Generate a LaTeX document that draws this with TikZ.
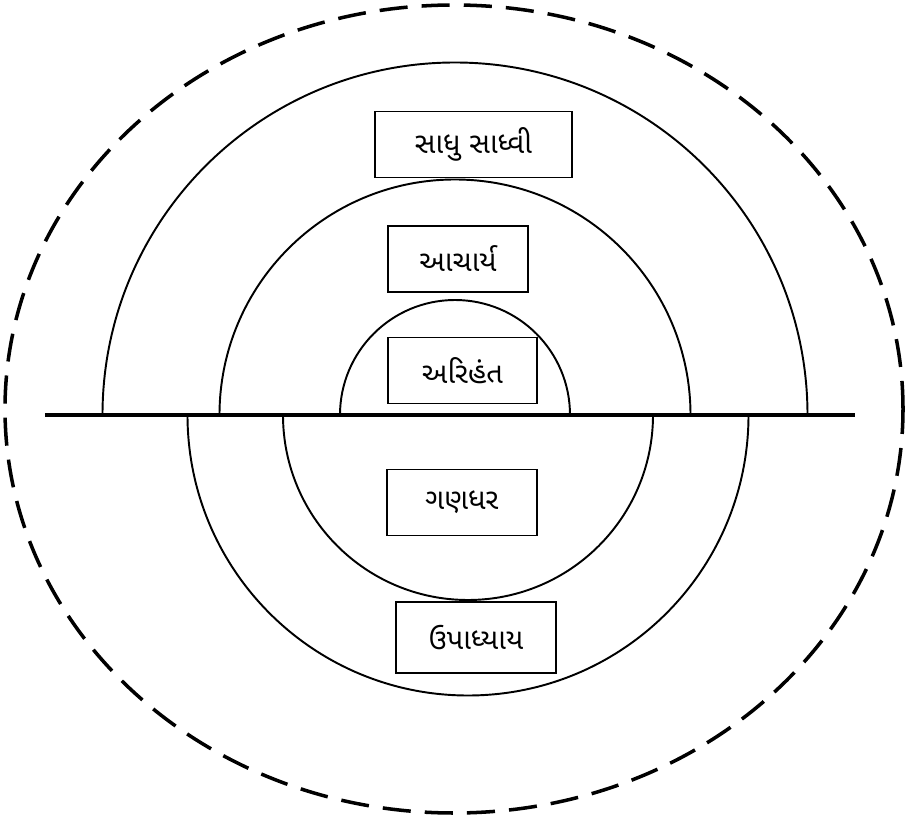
\documentclass[tikz,border=0pt]{standalone}
\usepackage{fontspec}
\newfontfamily\gujfont[Script=Gujarati]{Noto Sans Gujarati UI}
\tikzset{
    namebox/.style={draw, line width=1.1pt, minimum width=#1, minimum height=1.32cm,
        inner sep=0pt, font=\gujfont\fontsize{16.5}{20}\selectfont},
    ring/.style={line width=1.1pt}
}
\begin{document}
\begin{tikzpicture}
    \useasboundingbox (-9.1,8.3) rectangle (9.04,-8.16);
    % outer dashed boundary
    \draw[line width=2pt, dash pattern=on 16pt off 8pt] (-0.02,0.12) ellipse (8.98 and 8.08);
    % upper half rings
    \draw[ring] (7.05,0) arc (0:180:7.05);
    \draw[ring] (4.71,0) arc (0:180:4.71);
    \draw[ring] (2.3,0) arc (0:180:2.3);
    % lower half rings
    \begin{scope}[shift={(0.26,0)}]
        \draw[ring] (5.61,0) arc (0:-180:5.61);
        \draw[ring] (3.7,0) arc (0:-180:3.7);
    \end{scope}
    % dividing line
    \draw[line width=2.3pt] (-8.2,0) -- (8.0,0);
    % labels
    \node[namebox=3.94cm] (sadhu)    at (0.37, 5.41) {સાધુ સાધ્વી};
    \node[namebox=2.8cm]  (acharya)  at (0.06, 3.12) {આચાર્ય};
    \node[namebox=2.98cm] (arihant)  at (0.15, 0.89) {અરિહંત};
    \node[namebox=3.0cm]  (gandhar)  at (0.14,-1.75) {ગણધર};
    \node[namebox=3.2cm, minimum height=1.42cm] (upadhyay) at (0.42,-4.45) {ઉપાધ્યાય};
\end{tikzpicture}
\end{document}
